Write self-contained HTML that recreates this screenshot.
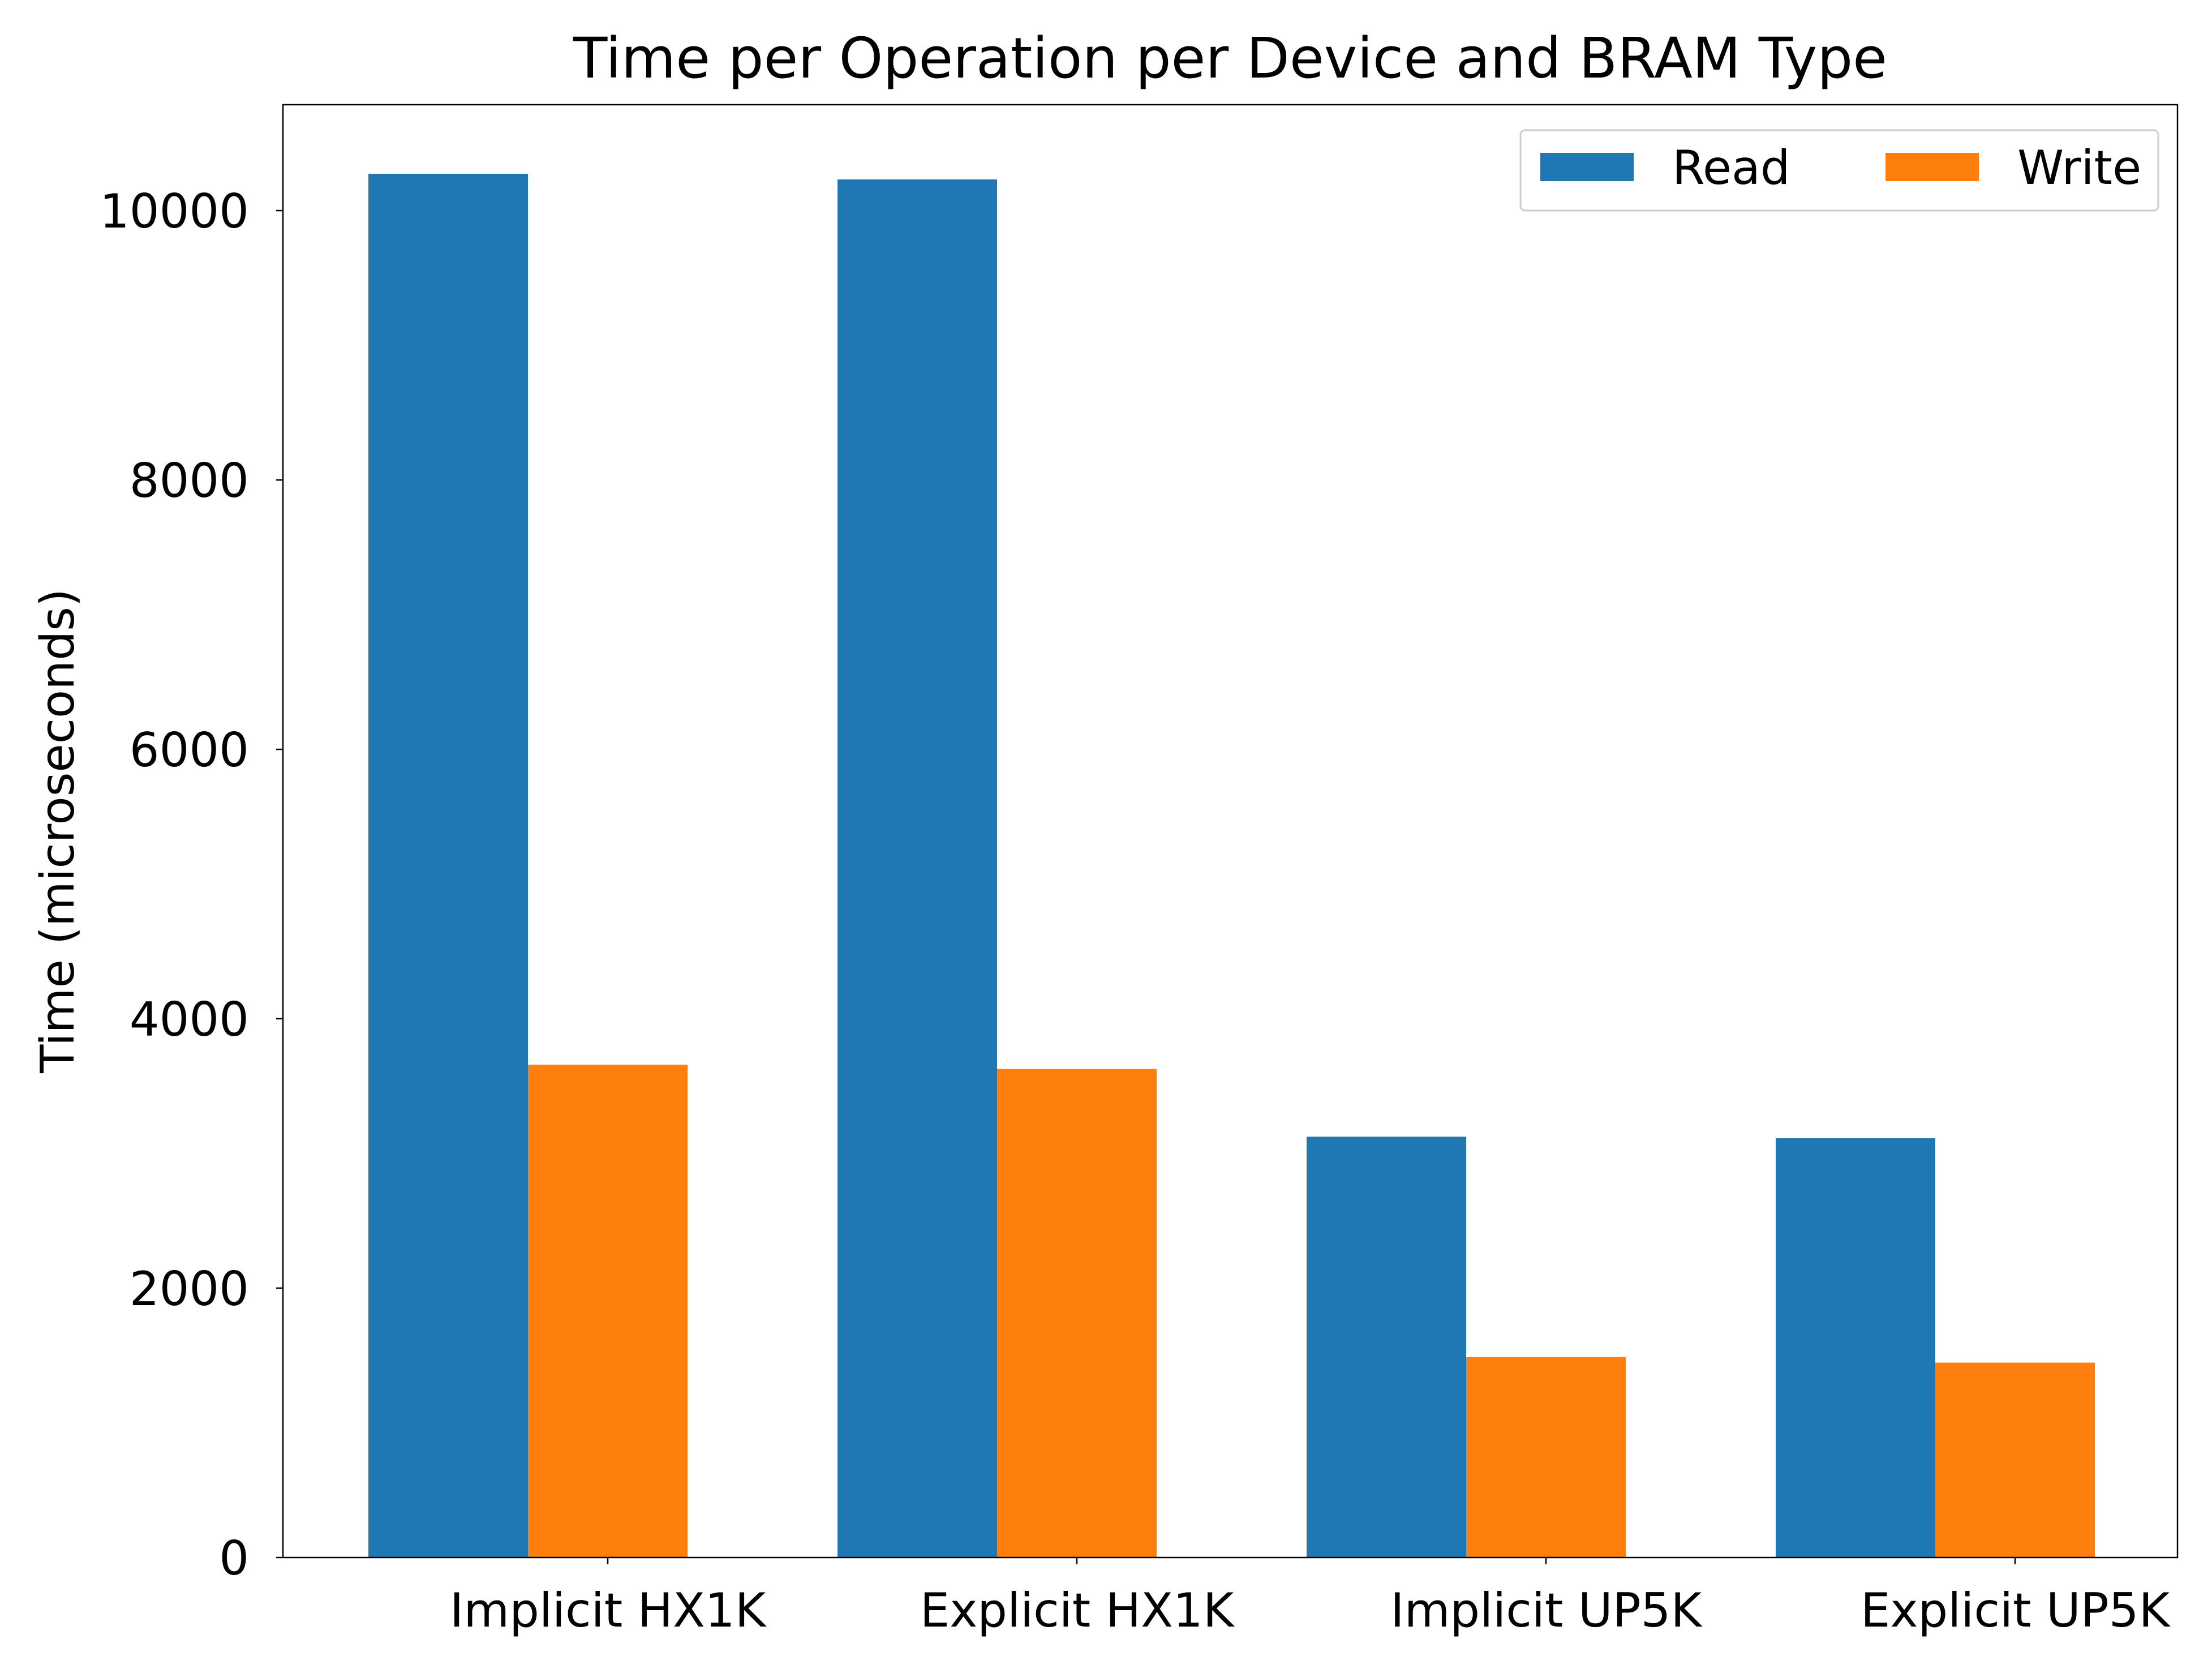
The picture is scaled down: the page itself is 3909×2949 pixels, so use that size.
<!DOCTYPE html>
<html><head><meta charset="utf-8"><style>
html,body{margin:0;padding:0;background:#fff}
svg{display:block;font-family:"DejaVu Sans","Liberation Sans",sans-serif}
</style></head><body>
<svg id="chart" width="3909" height="2949" viewBox="0 0 3909 2949">
<rect x="0" y="0" width="3909" height="2949" fill="#fff"/>
<text x="2174" y="137" font-size="99" text-anchor="middle">Time per Operation per Device and BRAM Type</text>
<text transform="translate(130,1468) rotate(-90)" font-size="82" text-anchor="middle">Time (microseconds)</text>
<g id="bars"></g>
<g id="axes"></g>
<g>
<rect x="2687" y="230" width="1127" height="142" rx="8" fill="#fff" fill-opacity="0.8" stroke="#ccc" stroke-width="3"/>
<rect x="2722" y="270" width="165" height="50" fill="#1f77b4"/>
<text x="2955" y="325" font-size="83">Read</text>
<rect x="3332" y="270" width="165" height="50" fill="#ff7f0e"/>
<text x="3565" y="325" font-size="83">Write</text>
</g>
</svg>
<script>
const categories = ["Implicit HX1K","Explicit HX1K","Implicit UP5K","Explicit UP5K"];
const readValues = [10273, 10231, 3124, 3113];
const writeValues = [3658, 3627, 1488, 1447];
const yTicks = [0, 2000, 4000, 6000, 8000, 10000];

const NS = "http://www.w3.org/2000/svg";
const L = 500, R = 3848, T = 185, B = 2752, yMax = 10786;
const y = v => B - v / yMax * (B - T);
const groupX = i => 1074 + 829 * i;
const bw = 282;
function mk(tag, attrs, parent){const e=document.createElementNS(NS,tag);for(const k in attrs)e.setAttribute(k,attrs[k]);parent.appendChild(e);return e;}
const bars = document.getElementById('bars');
const axes = document.getElementById('axes');
categories.forEach((c,i)=>{
  const gx = groupX(i);
  const r = mk('rect',{x:gx-1.5*bw,y:y(readValues[i]),width:bw,height:B-y(readValues[i]),fill:'#1f77b4'},bars);
  
  
  const w = mk('rect',{x:gx-0.5*bw,y:y(writeValues[i]),width:bw,height:B-y(writeValues[i]),fill:'#ff7f0e'},bars);
  
  
  const t = mk('line',{x1:gx,x2:gx,y1:B,y2:B+12,stroke:'#000','stroke-width':2.5},axes);
  
  
  const lb = mk('text',{x:gx,y:B+122,'font-size':83,'text-anchor':'middle'},axes);
  lb.textContent = c;
  
  
});
yTicks.forEach(v=>{
  const t = mk('line',{x1:L-12,x2:L,y1:y(v),y2:y(v),stroke:'#000','stroke-width':2.5},axes);
  
  
  const lb = mk('text',{x:L-60,y:y(v)+30,'font-size':83,'text-anchor':'end'},axes);
  lb.textContent = v;
  
  
});
const frame = mk('rect',{x:L,y:T,width:R-L,height:B-T,fill:'none',stroke:'#000','stroke-width':2.5},axes);


</script>
</body></html>
